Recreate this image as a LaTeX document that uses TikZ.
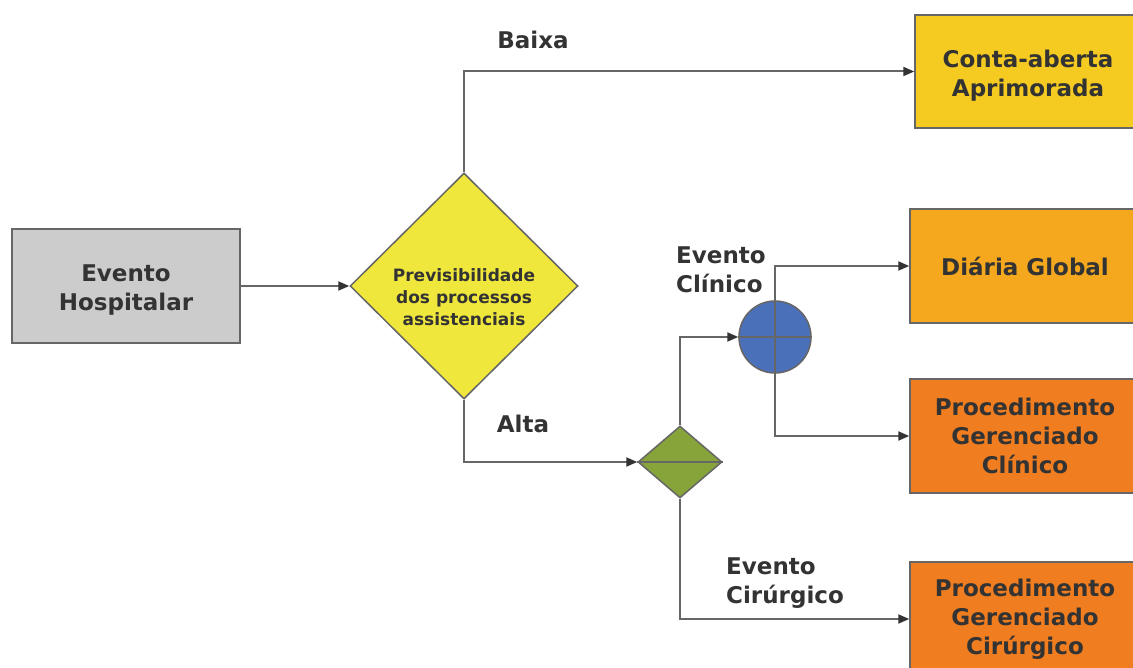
\documentclass[tikz,border=0pt]{standalone}
\usepackage{fontspec}
\setmainfont{DejaVu Sans}
\usetikzlibrary{shapes.geometric,arrows.meta}
\definecolor{txt}{HTML}{333333}
\definecolor{ln}{HTML}{666666}
\definecolor{grayfill}{HTML}{CCCCCC}
\definecolor{yel}{HTML}{F0E73C}
\definecolor{conta}{HTML}{F5CB22}
\definecolor{diaria}{HTML}{F5A81E}
\definecolor{pgorange}{HTML}{F07D20}
\definecolor{grn}{HTML}{86A43A}
\definecolor{blu}{HTML}{4A70BA}
\tikzset{
  boxnode/.style={draw=ln, line width=1.5pt, rectangle, minimum width=230pt, minimum height=114pt,
    align=center, text=txt, font=\fontsize{23}{29}\selectfont\bfseries, inner sep=0pt},
  boxtext/.style={text=txt, align=center, font=\fontsize{23}{29}\selectfont\bfseries, inner sep=0pt, yshift=-4pt},
  lbl/.style={text=txt, font=\fontsize{23}{29}\selectfont\bfseries, inner sep=0pt},
  arr/.style={draw=ln, line width=2pt, -{Triangle[length=11pt,width=9pt,fill=txt,color=txt]}},
}
\begin{document}
\begin{tikzpicture}[x=1pt,y=-1pt]
\clip (0,0) rectangle (1133,668);
\fill[white] (0,0) rectangle (1133,668);
\node[boxnode, fill=grayfill, minimum width=228pt,
  label={[boxtext]center:{Evento\\Hospitalar}}] (evento) at (126,286) {};
\node[diamond, draw=ln, line width=1.5pt, fill=yel, minimum width=228pt, minimum height=226pt, inner sep=0pt,
  label={[text=txt, align=center, font=\fontsize{17}{22}\selectfont\bfseries, yshift=-11pt]center:{Previsibilidade\\dos processos\\assistenciais}}] (prev) at (464,286) {};
\node[boxnode, fill=conta, minimum width=226pt, minimum height=113pt,
  label={[boxtext]center:{Conta-aberta\\Aprimorada}}] (conta) at (1028,71.5) {};
\node[boxnode, fill=diaria] (diaria) at (1025,266) {Diária Global};
\node[boxnode, fill=pgorange] (pgc) at (1025,436) {Procedimento\\Gerenciado\\Clínico};
\node[boxnode, fill=pgorange] (pgcir) at (1025,619) {Procedimento\\Gerenciado\\Cirúrgico};
\node[diamond, draw=ln, line width=1.5pt, fill=grn, minimum width=84pt, minimum height=72pt, inner sep=0pt] (green) at (680,462) {};
\draw[ln, line width=2pt] (green.west) -- (green.east);
\node[circle, draw=ln, line width=1.5pt, fill=blu, minimum size=72pt, inner sep=0pt] (circ) at (775,337) {};
\draw[ln, line width=2pt] (circ.west) -- (circ.east) (circ.north) -- (circ.south);

\draw[arr] (evento.east) -- (prev.west);
\draw[arr] (prev.north) |- (conta.west);
\draw[arr] (prev.south) |- (green.west);
\draw[arr] (green.north) |- (circ.west);
\draw[arr] (circ.north) |- (diaria.west);
\draw[arr] (circ.south) |- (pgc.west);
\draw[arr] (green.south) |- (pgcir.west);

\node[lbl] (baixa) at (533,40) {Baixa};
\node[lbl] (alta) at (523,424) {Alta};
\node[lbl, align=left, anchor=west] (evclin) at (676,270) {Evento\\Clínico};
\node[lbl, align=left, anchor=west] (evcir) at (726,583) {Evento\\Cirúrgico};
\end{tikzpicture}
\end{document}
